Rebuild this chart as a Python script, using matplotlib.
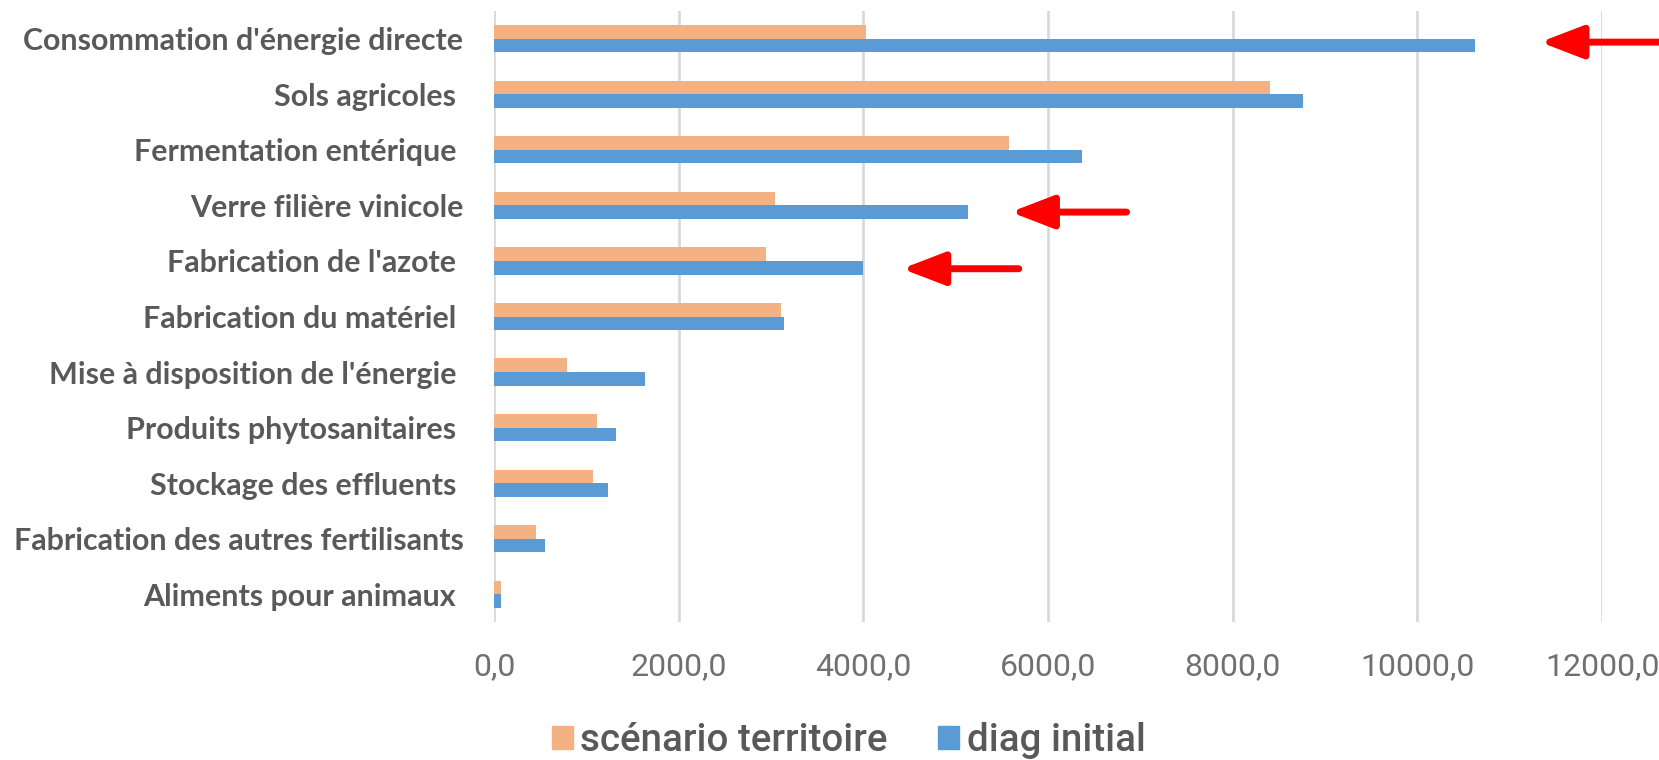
import matplotlib
matplotlib.use("Agg")
import matplotlib.pyplot as plt
from matplotlib.patches import Patch

# Postes d'émission (ordre d'affichage, du haut vers le bas)
categories = [
    "Consommation d'énergie directe",
    "Sols agricoles ",
    "Fermentation entérique ",
    "Verre filière vinicole",
    "Fabrication de l'azote ",
    "Fabrication du matériel ",
    "Mise à disposition de l'énergie ",
    "Produits phytosanitaires ",
    "Stockage des effluents ",
    "Fabrication des autres fertilisants",
    "Aliments pour animaux ",
]
scenario_territoire = [4030, 8400, 5580, 3040, 2940, 3110, 790, 1110, 1070, 450, 80]
diag_initial = [10620, 8760, 6370, 5130, 4000, 3140, 1640, 1320, 1230, 550, 80]
xticks = [0, 2000, 4000, 6000, 8000, 10000, 12000]

# flèches rouges : (y, x pointe, x départ)
fleches = [(0.06, 11330, 12620), (3.12, 5595, 6850), (4.14, 4418, 5683)]

c_orange = "#F4B183"
c_bleu = "#5B9BD5"
gris_txt = "#595959"

fig = plt.figure(figsize=(16.59, 7.6), dpi=100)
ax = fig.add_axes([0.2978, 0.1816, 0.6679, 0.8039])

y = list(range(len(categories)))
h = 0.245
ax.barh([i - h / 2 for i in y], scenario_territoire, height=h, color=c_orange, zorder=3)
ax.barh([i + h / 2 for i in y], diag_initial, height=h, color=c_bleu, zorder=3)

ax.set_xlim(0, 12000)
ax.set_ylim(len(categories) - 0.5, -0.5)
ax.set_xticks(xticks)
ax.set_xticklabels([f"{v:.1f}".replace(".", ",") for v in xticks],
                   family="Roboto", fontsize=23, color="#707070")
ax.set_yticks(y)
ax.set_yticklabels(categories, family="Lato", fontweight="bold", fontsize=21.9, color=gris_txt)
ax.tick_params(axis="x", length=0, pad=22)
ax.tick_params(axis="y", length=0, pad=22)
ax.grid(axis="x", color="#D9D9D9", lw=2, zorder=0)
for s in ax.spines.values():
    s.set_visible(False)

for yy, x_tip, x_tail in fleches:
    ax.annotate("", xy=(x_tip, yy), xytext=(x_tail, yy),
                arrowprops=dict(arrowstyle="-|>,head_length=2.6,head_width=1.0",
                                color="#FF0000", lw=5, shrinkA=0, shrinkB=0),
                annotation_clip=False, zorder=5)

handles = [Patch(color=c_orange), Patch(color=c_bleu)]
fig.legend(handles, ["scénario territoire", "diag initial"], loc="center",
           bbox_to_anchor=(0.5115, 0.026), ncol=2, frameon=False,
           prop=dict(family="Roboto", weight="medium", size=27.7),
           labelcolor=gris_txt, handlelength=0.55, handleheight=0.55,
           handletextpad=0.2, columnspacing=1.3)

fig.savefig("out.png", dpi=100)
